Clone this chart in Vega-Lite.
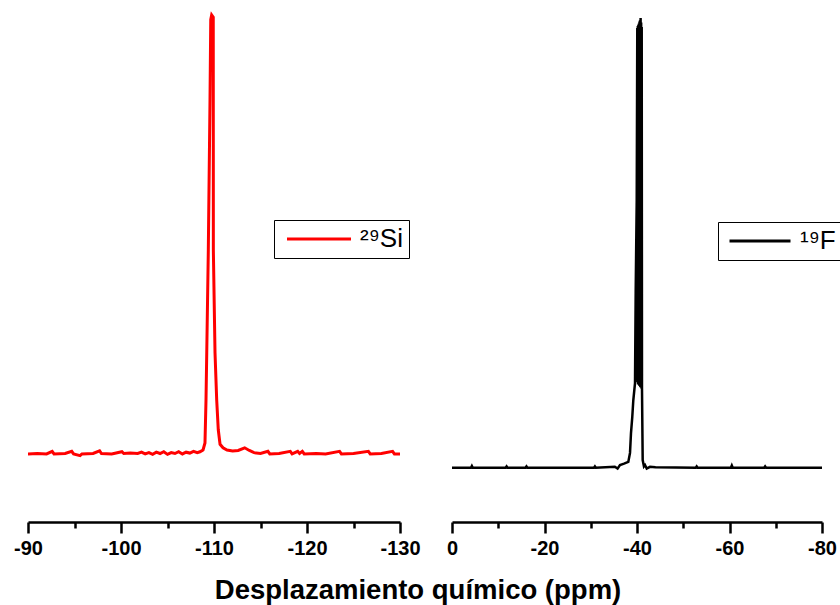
{
  "$schema": "https://vega.github.io/schema/vega-lite/v6.json",
  "padding": {"left": 13, "top": 0, "right": 0, "bottom": 0},
  "background": "white",
  "datasets": {
    "si": [
      {"ppm": -90, "i": 0, "n": "²⁹Si"},
      {"ppm": -91, "i": 0.1, "n": "²⁹Si"},
      {"ppm": -92, "i": 0, "n": "²⁹Si"},
      {"ppm": -92.6, "i": 0.6, "n": "²⁹Si"},
      {"ppm": -92.8, "i": 0, "n": "²⁹Si"},
      {"ppm": -94, "i": 0.1, "n": "²⁹Si"},
      {"ppm": -94.7, "i": 0.6, "n": "²⁹Si"},
      {"ppm": -94.9, "i": 0, "n": "²⁹Si"},
      {"ppm": -95.6, "i": -0.4, "n": "²⁹Si"},
      {"ppm": -95.8, "i": 0, "n": "²⁹Si"},
      {"ppm": -97, "i": 0.1, "n": "²⁹Si"},
      {"ppm": -97.7, "i": 0.7, "n": "²⁹Si"},
      {"ppm": -97.9, "i": 0.1, "n": "²⁹Si"},
      {"ppm": -99, "i": 0, "n": "²⁹Si"},
      {"ppm": -100.1, "i": 0.5, "n": "²⁹Si"},
      {"ppm": -100.3, "i": 0.1, "n": "²⁹Si"},
      {"ppm": -101, "i": 0.2, "n": "²⁹Si"},
      {"ppm": -101.8, "i": 0.1, "n": "²⁹Si"},
      {"ppm": -102.2, "i": 0.4, "n": "²⁹Si"},
      {"ppm": -102.6, "i": 0, "n": "²⁹Si"},
      {"ppm": -103, "i": 0.3, "n": "²⁹Si"},
      {"ppm": -103.4, "i": -0.1, "n": "²⁹Si"},
      {"ppm": -103.8, "i": 0.4, "n": "²⁹Si"},
      {"ppm": -104.2, "i": 0.1, "n": "²⁹Si"},
      {"ppm": -104.6, "i": 0.5, "n": "²⁹Si"},
      {"ppm": -105, "i": -0.1, "n": "²⁹Si"},
      {"ppm": -105.4, "i": 0.3, "n": "²⁹Si"},
      {"ppm": -105.8, "i": 0.1, "n": "²⁹Si"},
      {"ppm": -106.2, "i": 0.5, "n": "²⁹Si"},
      {"ppm": -106.6, "i": 0, "n": "²⁹Si"},
      {"ppm": -107, "i": 0.4, "n": "²⁹Si"},
      {"ppm": -107.4, "i": 0.2, "n": "²⁹Si"},
      {"ppm": -107.8, "i": 0.6, "n": "²⁹Si"},
      {"ppm": -108.2, "i": 0.3, "n": "²⁹Si"},
      {"ppm": -108.49, "i": 0.5, "n": "²⁹Si"},
      {"ppm": -108.82, "i": 0.9, "n": "²⁹Si"},
      {"ppm": -109.03, "i": 2.5, "n": "²⁹Si"},
      {"ppm": -109.14, "i": 12.3, "n": "²⁹Si"},
      {"ppm": -109.22, "i": 23.0, "n": "²⁹Si"},
      {"ppm": -109.39, "i": 46.5, "n": "²⁹Si"},
      {"ppm": -109.57, "i": 80.6, "n": "²⁹Si"},
      {"ppm": -109.65, "i": 98.9, "n": "²⁹Si"},
      {"ppm": -109.75, "i": 100, "n": "²⁹Si"},
      {"ppm": -109.92, "i": 99.5, "n": "²⁹Si"},
      {"ppm": -109.93, "i": 46.5, "n": "²⁹Si"},
      {"ppm": -110.11, "i": 23.0, "n": "²⁹Si"},
      {"ppm": -110.29, "i": 12.3, "n": "²⁹Si"},
      {"ppm": -110.46, "i": 5.5, "n": "²⁹Si"},
      {"ppm": -110.65, "i": 2.2, "n": "²⁹Si"},
      {"ppm": -110.97, "i": 1.4, "n": "²⁹Si"},
      {"ppm": -111.4, "i": 0.9, "n": "²⁹Si"},
      {"ppm": -112, "i": 0.7, "n": "²⁹Si"},
      {"ppm": -112.6, "i": 0.8, "n": "²⁹Si"},
      {"ppm": -113.3, "i": 1.4, "n": "²⁹Si"},
      {"ppm": -113.8, "i": 0.8, "n": "²⁹Si"},
      {"ppm": -114.3, "i": 0.3, "n": "²⁹Si"},
      {"ppm": -115, "i": 0.1, "n": "²⁹Si"},
      {"ppm": -115.8, "i": 0.6, "n": "²⁹Si"},
      {"ppm": -116, "i": 0, "n": "²⁹Si"},
      {"ppm": -117, "i": 0.1, "n": "²⁹Si"},
      {"ppm": -118.2, "i": 0.6, "n": "²⁹Si"},
      {"ppm": -118.4, "i": 0, "n": "²⁹Si"},
      {"ppm": -119, "i": 0.6, "n": "²⁹Si"},
      {"ppm": -119.2, "i": 0.1, "n": "²⁹Si"},
      {"ppm": -119.5, "i": 0.6, "n": "²⁹Si"},
      {"ppm": -119.7, "i": 0, "n": "²⁹Si"},
      {"ppm": -121, "i": 0.1, "n": "²⁹Si"},
      {"ppm": -122, "i": 0, "n": "²⁹Si"},
      {"ppm": -123.5, "i": 0.6, "n": "²⁹Si"},
      {"ppm": -123.7, "i": 0, "n": "²⁹Si"},
      {"ppm": -125, "i": 0.1, "n": "²⁹Si"},
      {"ppm": -126.6, "i": 0.6, "n": "²⁹Si"},
      {"ppm": -126.8, "i": 0, "n": "²⁹Si"},
      {"ppm": -128, "i": 0.1, "n": "²⁹Si"},
      {"ppm": -129.2, "i": 0.6, "n": "²⁹Si"},
      {"ppm": -129.4, "i": 0, "n": "²⁹Si"},
      {"ppm": -130, "i": 0, "n": "²⁹Si"}
    ],
    "f": [
      {"ppm": 0, "i": 0, "n": "¹⁹F"},
      {"ppm": -4.1, "i": 0, "n": "¹⁹F"},
      {"ppm": -4.3, "i": 0.4, "n": "¹⁹F"},
      {"ppm": -4.5, "i": 0, "n": "¹⁹F"},
      {"ppm": -11.6, "i": 0, "n": "¹⁹F"},
      {"ppm": -11.8, "i": 0.3, "n": "¹⁹F"},
      {"ppm": -12, "i": 0, "n": "¹⁹F"},
      {"ppm": -15.9, "i": 0, "n": "¹⁹F"},
      {"ppm": -16.1, "i": 0.3, "n": "¹⁹F"},
      {"ppm": -16.3, "i": 0, "n": "¹⁹F"},
      {"ppm": -30.7, "i": 0, "n": "¹⁹F"},
      {"ppm": -30.9, "i": 0.3, "n": "¹⁹F"},
      {"ppm": -31.1, "i": 0, "n": "¹⁹F"},
      {"ppm": -35.2, "i": 0.2, "n": "¹⁹F"},
      {"ppm": -35.8, "i": -0.2, "n": "¹⁹F"},
      {"ppm": -36.32, "i": 0.6, "n": "¹⁹F"},
      {"ppm": -37.2, "i": 0.9, "n": "¹⁹F"},
      {"ppm": -38.12, "i": 1.3, "n": "¹⁹F"},
      {"ppm": -38.49, "i": 3.3, "n": "¹⁹F"},
      {"ppm": -38.7, "i": 7.7, "n": "¹⁹F"},
      {"ppm": -38.98, "i": 11.3, "n": "¹⁹F"},
      {"ppm": -39.2, "i": 15.0, "n": "¹⁹F"},
      {"ppm": -39.57, "i": 18.8, "n": "¹⁹F"},
      {"ppm": -39.72, "i": 39.5, "n": "¹⁹F"},
      {"ppm": -39.94, "i": 59.5, "n": "¹⁹F"},
      {"ppm": -40.06, "i": 97.8, "n": "¹⁹F"},
      {"ppm": -40.12, "i": 19.0, "n": "¹⁹F"},
      {"ppm": -40.18, "i": 98.2, "n": "¹⁹F"},
      {"ppm": -40.24, "i": 18.5, "n": "¹⁹F"},
      {"ppm": -40.3, "i": 98.5, "n": "¹⁹F"},
      {"ppm": -40.36, "i": 18.8, "n": "¹⁹F"},
      {"ppm": -40.42, "i": 98.8, "n": "¹⁹F"},
      {"ppm": -40.48, "i": 18.2, "n": "¹⁹F"},
      {"ppm": -40.54, "i": 99.2, "n": "¹⁹F"},
      {"ppm": -40.6, "i": 18.6, "n": "¹⁹F"},
      {"ppm": -40.66, "i": 99.5, "n": "¹⁹F"},
      {"ppm": -40.72, "i": 17.9, "n": "¹⁹F"},
      {"ppm": -40.78, "i": 100, "n": "¹⁹F"},
      {"ppm": -40.84, "i": 18.1, "n": "¹⁹F"},
      {"ppm": -40.9, "i": 99.0, "n": "¹⁹F"},
      {"ppm": -40.96, "i": 17.6, "n": "¹⁹F"},
      {"ppm": -41.02, "i": 98.0, "n": "¹⁹F"},
      {"ppm": -41.08, "i": 17.5, "n": "¹⁹F"},
      {"ppm": -41.23, "i": 1.7, "n": "¹⁹F"},
      {"ppm": -41.5, "i": 0.3, "n": "¹⁹F"},
      {"ppm": -41.73, "i": 0.6, "n": "¹⁹F"},
      {"ppm": -42.1, "i": -0.2, "n": "¹⁹F"},
      {"ppm": -42.81, "i": 0.2, "n": "¹⁹F"},
      {"ppm": -44, "i": 0.1, "n": "¹⁹F"},
      {"ppm": -52.7, "i": 0, "n": "¹⁹F"},
      {"ppm": -52.9, "i": 0.3, "n": "¹⁹F"},
      {"ppm": -53.1, "i": 0, "n": "¹⁹F"},
      {"ppm": -60.3, "i": 0, "n": "¹⁹F"},
      {"ppm": -60.5, "i": 0.5, "n": "¹⁹F"},
      {"ppm": -60.7, "i": 0, "n": "¹⁹F"},
      {"ppm": -67.5, "i": 0, "n": "¹⁹F"},
      {"ppm": -67.7, "i": 0.3, "n": "¹⁹F"},
      {"ppm": -67.9, "i": 0, "n": "¹⁹F"},
      {"ppm": -80, "i": 0, "n": "¹⁹F"}
    ]
  },
  "title": {
    "text": "Desplazamiento químico (ppm)",
    "orient": "bottom",
    "anchor": "middle",
    "font": "Liberation Sans",
    "fontSize": 27.5,
    "fontWeight": "bold",
    "color": "black",
    "offset": 19,
    "dx": -10
  },
  "spacing": 52,
  "bounds": "flush",
  "resolve": {
    "scale": {"x": "independent", "y": "independent", "color": "independent"},
    "legend": {"color": "independent"}
  },
  "hconcat": [
    {
      "width": 372,
      "height": 522,
      "data": {"name": "si"},
      "mark": {"type": "line", "strokeWidth": 3, "clip": true},
      "encoding": {
        "x": {
          "field": "ppm",
          "type": "quantitative",
          "scale": {"domain": [-130, -90], "reverse": true, "nice": false, "zero": false},
          "axis": {
            "title": null,
            "values": [-90, -95, -100, -105, -110, -115, -120, -125, -130],
            "labelExpr": "datum.value % 10 === 0 ? '' + datum.value : ''",
            "tickSize": {"condition": {"test": "datum.value % 10 === 0", "value": 11}, "value": 6}
          }
        },
        "y": {
          "field": "i",
          "type": "quantitative",
          "scale": {"domain": [-15.5, 103.4], "nice": false, "zero": false},
          "axis": null
        },
        "color": {
          "field": "n",
          "type": "nominal",
          "scale": {"range": ["#ff0000"]},
          "legend": {
            "orient": "none",
            "legendX": 246,
            "legendY": 220,
            "title": null,
            "symbolType": "M-6.4,0H6.4",
            "symbolSize": 100,
            "symbolStrokeWidth": 3,
            "symbolOffset": 26,
            "labelFont": "Liberation Sans",
            "labelFontSize": 26,
            "labelColor": "black",
            "labelOffset": 28,
            "padding": 6,
            "strokeColor": "black",
            "fillColor": "white",
            "cornerRadius": 0
          }
        }
      }
    },
    {
      "width": 370,
      "height": 522,
      "data": {"name": "f"},
      "mark": {"type": "line", "strokeWidth": 2.5, "clip": true},
      "encoding": {
        "x": {
          "field": "ppm",
          "type": "quantitative",
          "scale": {"domain": [-80, 0], "reverse": true, "nice": false, "zero": false},
          "axis": {
            "title": null,
            "values": [0, -10, -20, -30, -40, -50, -60, -70, -80],
            "labelExpr": "datum.value % 20 === 0 ? '' + datum.value : ''",
            "tickSize": {"condition": {"test": "datum.value % 20 === 0", "value": 11}, "value": 6}
          }
        },
        "y": {
          "field": "i",
          "type": "quantitative",
          "scale": {"domain": [-12.07, 104], "nice": false, "zero": false},
          "axis": null
        },
        "color": {
          "field": "n",
          "type": "nominal",
          "scale": {"range": ["#000000"]},
          "legend": {
            "orient": "none",
            "legendX": 266,
            "legendY": 222,
            "title": null,
            "symbolType": "M-6.1,0H6.1",
            "symbolSize": 100,
            "symbolStrokeWidth": 3,
            "symbolOffset": 23,
            "labelFont": "Liberation Sans",
            "labelFontSize": 26,
            "labelColor": "black",
            "labelOffset": 27,
            "padding": 6,
            "strokeColor": "black",
            "fillColor": "white",
            "cornerRadius": 0
          }
        }
      }
    }
  ],
  "config": {
    "view": {"stroke": null},
    "axis": {
      "grid": false,
      "domainColor": "black",
      "domainWidth": 2.5,
      "tickColor": "black",
      "tickWidth": 2.5,
      "labelFont": "Liberation Sans",
      "labelFontSize": 20,
      "labelFontWeight": "bold",
      "labelColor": "black",
      "labelPadding": 5,
      "labelFlush": false,
      "labelOverlap": false
    }
  }
}
